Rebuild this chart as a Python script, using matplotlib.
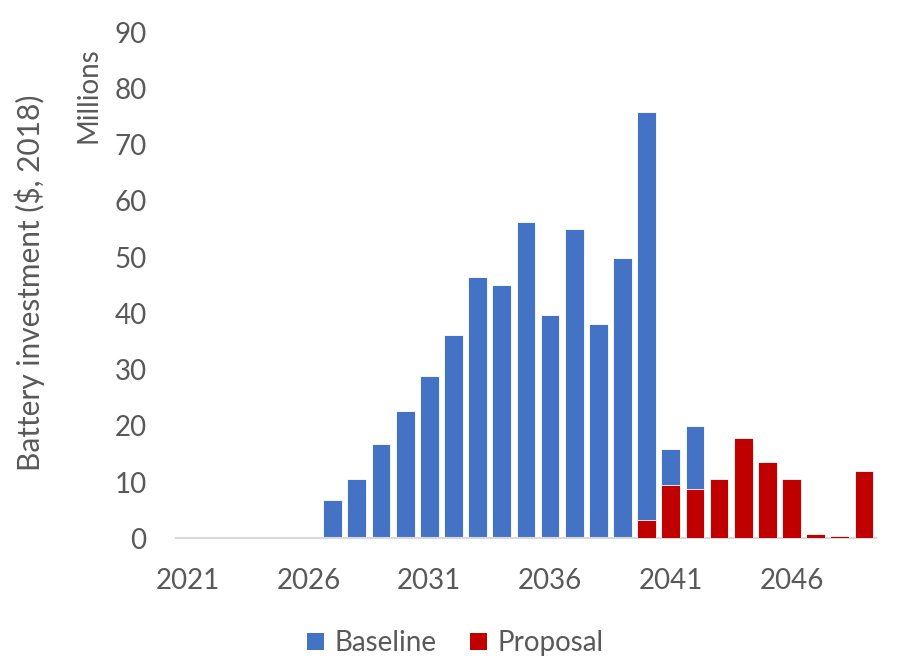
import matplotlib
matplotlib.use("Agg")
import matplotlib.pyplot as plt
from matplotlib.patches import Patch
import numpy as np

plt.rcParams['font.family'] = ['Lato', 'DejaVu Sans']

years = list(range(2021, 2050))
baseline = [0, 0, 0, 0, 0, 0, 6.9, 10.5, 16.8, 22.6, 28.9, 36.2, 46.5, 45.0, 56.3,
            39.8, 55.1, 38.2, 49.8, 75.9, 15.9, 19.9, 0, 0, 0, 0, 0, 0, 0]
proposal = [0, 0, 0, 0, 0, 0, 0, 0, 0, 0, 0, 0, 0, 0, 0,
            0, 0, 0, 0, 3.2, 9.5, 8.75, 10.6, 17.8, 13.6, 10.6, 0.75, 0.4, 12.0]
tick_years = [2021, 2026, 2031, 2036, 2041, 2046]

blue = '#4472C4'
red = '#C00000'
text_col = '#595959'

fig = plt.figure(figsize=(9.11, 6.59), dpi=100)
ax = fig.add_axes([0.193, 0.183, 0.7686, 0.768])

x = np.arange(len(years))
w = 0.78
ax.bar(x, baseline, width=w, color=blue, edgecolor='#ffffff', linewidth=0.6, zorder=2)
ax.bar(x, proposal, width=w, color=red, edgecolor='#ffffff', linewidth=0.6, zorder=3)

ax.set_xlim(-0.5, len(years) - 0.5)
ax.set_ylim(0, 90)
ax.set_yticks(np.arange(0, 91, 10))
ax.set_xticks([years.index(y) for y in tick_years])
ax.set_xticklabels([str(y) for y in tick_years])

for s in ['top', 'right', 'left']:
    ax.spines[s].set_visible(False)
ax.spines['bottom'].set_color('#D9D9D9')
ax.spines['bottom'].set_linewidth(1.5)

ax.tick_params(axis='y', length=0, pad=21, labelsize=20, labelcolor=text_col)
ax.tick_params(axis='x', length=0, pad=21, labelsize=20, labelcolor=text_col)

fig.text(0.033, 0.571, 'Battery investment ($, 2018)', rotation=90, ha='center',
         va='center', fontsize=21.5, color=text_col)
fig.text(0.097, 0.856, 'Millions', rotation=90, ha='center', va='center',
         fontsize=20, color=text_col)

handles = [Patch(facecolor=blue, edgecolor='none', label='Baseline'),
           Patch(facecolor=red, edgecolor='none', label='Proposal')]
leg = fig.legend(handles=handles, loc='center', bbox_to_anchor=(0.5, 0.024),
                 ncol=2, frameon=False, fontsize=20, handlelength=0.6,
                 handleheight=0.6, handletextpad=0.4, columnspacing=1.2)
for t in leg.get_texts():
    t.set_color(text_col)

fig.savefig('out.png', dpi=100)
